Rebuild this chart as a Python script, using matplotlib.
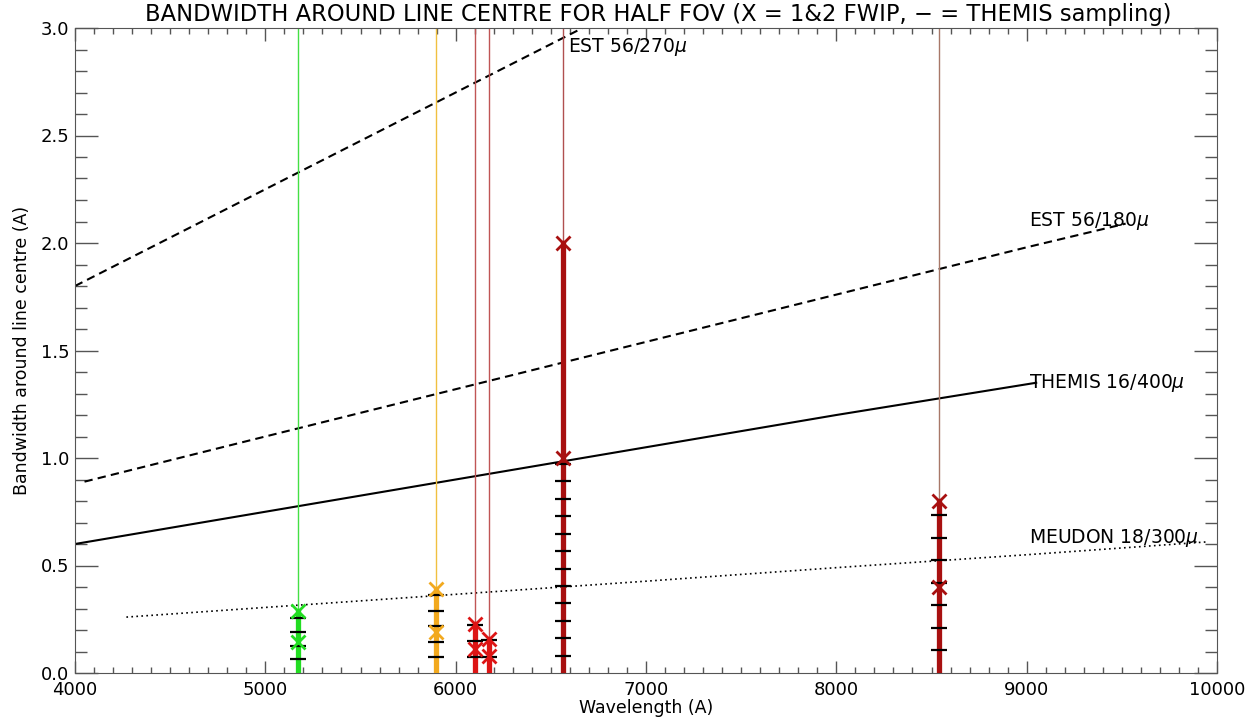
import matplotlib
matplotlib.use("Agg")
import matplotlib.pyplot as plt
from matplotlib.ticker import MultipleLocator, FormatStrFormatter

# Spectral lines (A) and the two FWIP bandwidths (X markers)
line_wl = [5173, 5896, 6102, 6173, 6563, 8542]
fwip_1 = [0.145, 0.19, 0.11, 0.08, 1.0, 0.40]
fwip_2 = [0.29, 0.39, 0.23, 0.16, 2.0, 0.80]
thick_colors = ["#22dd22", "#f2a91e", "#dd1515", "#dd1515", "#a81010", "#a81010"]
thin_colors = ["#44e044", "#f0c040", "#c05555", "#c05555", "#b05050", "#a87868"]

# THEMIS sampling marks along each line
themis_marks = [
    [0.064, 0.127, 0.191, 0.255],
    [0.073, 0.145, 0.218, 0.290, 0.363],
    [0.075, 0.150, 0.225],
    [0.076, 0.152],
    [0.081, 0.162, 0.243, 0.324, 0.405, 0.486, 0.567, 0.648, 0.729, 0.810, 0.891, 0.972],
    [0.105, 0.210, 0.315, 0.420, 0.525, 0.630, 0.735],
]

# Instrument bandwidth curves
est270_wl = [4000, 5000, 6000, 7000]
est270_bw = [1.80, 2.25, 2.70, 3.15]
est180_wl = [4050, 5000, 6000, 7000, 8000, 9000, 9520]
est180_bw = [0.89, 1.10, 1.32, 1.54, 1.76, 1.98, 2.09]
themis_wl = [4000, 5000, 6000, 7000, 8000, 9050]
themis_bw = [0.60, 0.75, 0.90, 1.05, 1.20, 1.35]
meudon_wl = [4270, 5000, 6000, 7000, 8000, 9000, 9950]
meudon_bw = [0.26, 0.305, 0.366, 0.427, 0.49, 0.55, 0.61]

fig = plt.figure(figsize=(12.58, 7.2), dpi=100)
ax = fig.add_axes([75 / 1258, 47 / 720, 1142 / 1258, 645 / 720])

# curves
ax.plot(est270_wl, est270_bw, color="black", lw=1.5, linestyle=(0, (4, 2.5)))
ax.plot(est180_wl, est180_bw, color="black", lw=1.5, linestyle=(0, (4, 2.5)))
ax.plot(themis_wl, themis_bw, color="black", lw=1.5)
ax.plot(meudon_wl, meudon_bw, color="black", lw=1.2, linestyle=(0, (1, 2)))

# spectral lines
for i, wl in enumerate(line_wl):
    ax.axvline(wl, color=thin_colors[i], lw=1, zorder=2)
    ax.plot([wl, wl], [0, fwip_2[i]], color=thick_colors[i], lw=3.8, zorder=3)
    ax.plot([wl] * len(themis_marks[i]), themis_marks[i], linestyle="none",
            marker="_", markersize=11, mew=1.6, color="black", zorder=4)
    ax.plot([wl, wl], [fwip_1[i], fwip_2[i]], linestyle="none", marker="x",
            markersize=10, mew=2, color=thick_colors[i], zorder=5)

# labels on curves
lab_kw = dict(fontsize=13.5, va="center", ha="left")
ax.text(6590, 2.91, r"EST 56/270$\mu$", **lab_kw)
ax.text(9010, 2.10, r"EST 56/180$\mu$", **lab_kw)
ax.text(9010, 1.35, r"THEMIS 16/400$\mu$", **lab_kw)
ax.text(9010, 0.63, r"MEUDON 18/300$\mu$", **lab_kw)

ax.set_xlim(4000, 10000)
ax.set_ylim(0, 3.0)
ax.xaxis.set_major_locator(MultipleLocator(1000))
ax.xaxis.set_minor_locator(MultipleLocator(100))
ax.yaxis.set_major_locator(MultipleLocator(0.5))
ax.yaxis.set_minor_locator(MultipleLocator(0.1))
ax.yaxis.set_major_formatter(FormatStrFormatter("%.1f"))
ax.tick_params(which="both", direction="in", top=True, right=True, colors="#555555",
               labelcolor="black", labelsize=13, width=1)
ax.tick_params(axis="x", which="major", length=9, pad=6)
ax.tick_params(axis="x", which="minor", length=4.5)
ax.tick_params(axis="y", which="major", length=16.5, pad=4)
ax.tick_params(axis="y", which="minor", length=8.5)
for s in ax.spines.values():
    s.set_color("#555555")

ax.set_xlabel("Wavelength (A)", fontsize=12.5, labelpad=0)
ax.set_ylabel("Bandwidth around line centre (A)", fontsize=12.5, labelpad=7)
ax.set_title("BANDWIDTH AROUND LINE CENTRE FOR HALF FOV (X = 1&2 FWIP, \u2212 = THEMIS sampling)",
             fontsize=16.3, pad=5, x=0.511)

fig.savefig("out.png", dpi=100)
